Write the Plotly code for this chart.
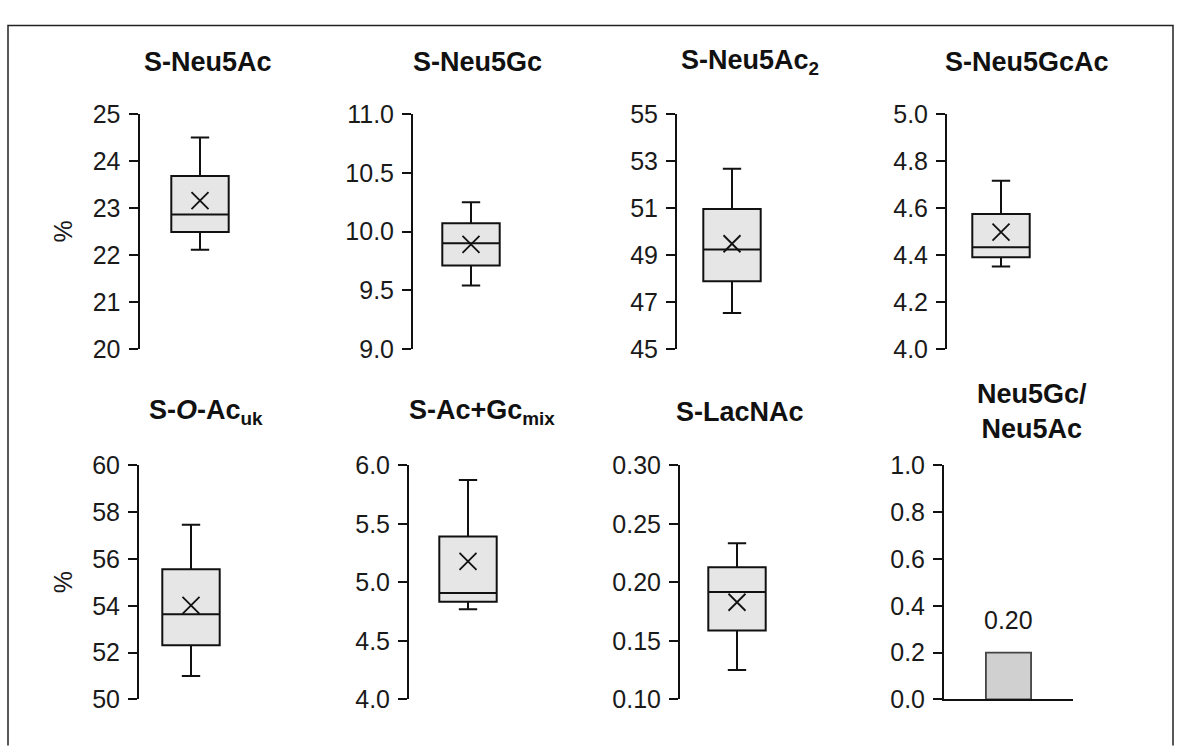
import plotly.graph_objects as go

W, H = 1182, 747

# Panel titles (HTML for sub/italic)
titles = [
    "S-Neu5Ac", "S-Neu5Gc", "S-Neu5Ac<sub>2</sub>", "S-Neu5GcAc",
    "S-<i>O</i>-Ac<sub>uk</sub>", "S-Ac+Gc<sub>mix</sub>", "S-LacNAc",
]
# Box statistics for the seven sialylated species
lower_whisker = [22.11, 9.54, 46.53, 4.351, 51.00, 4.77, 0.125]
q1_values     = [22.49, 9.71, 47.88, 4.390, 52.31, 4.835, 0.1588]
medians       = [22.86, 9.90, 49.23, 4.433, 53.64, 4.909, 0.1918]
q3_values     = [23.68, 10.07, 50.96, 4.575, 55.56, 5.393, 0.2129]
upper_whisker = [24.50, 10.25, 52.67, 4.716, 57.46, 5.876, 0.2335]
means         = [23.16, 9.89, 49.48, 4.497, 54.02, 5.18, 0.183]

# Axis ranges and tick spacing
y_ranges = [(20, 25), (9.0, 11.0), (45, 55), (4.0, 5.0),
            (50, 60), (4.0, 6.0), (0.10, 0.30), (0.0, 1.0)]
y_dticks = [1, 0.5, 2, 0.2, 2, 0.5, 0.05, 0.2]
y_formats = ["d", ".1f", "d", ".1f", "d", ".1f", ".2f", ".1f"]

# Ratio panel
ratio_label = "Neu5Gc/<br>Neu5Ac"
ratio_value = [0.20]

# Layout geometry in pixels
axis_left = [139.5, 413, 677, 947, 139, 409, 680, 944]
mark_center = [200, 471, 732, 1001, 191, 468, 737, 1008.5]
panel_w = 129
unit_px = 64.5          # pixels per x data unit
row_top = [104, 469]
row_bot = [348, 712]
title_x = [208, 478, 750, 1027, 206, 482, 740, 1032]
title_y = [50, 413]

FONT = "Arial, Liberation Sans, sans-serif"
TICK_SIZE = 25
TITLE_SIZE = 27


def px_x(v):
    return v / W


def px_y(v):
    return 1 - v / H


fig = go.Figure()
layout = dict(
    width=W, height=H,
    margin=dict(l=0, r=0, t=0, b=0),
    paper_bgcolor="white", plot_bgcolor="white",
    showlegend=False,
    font=dict(family=FONT, size=TICK_SIZE, color="#1a1a1a"),
)

annotations = []
for i in range(8):
    n = i + 1
    row = 0 if i < 4 else 1
    xa = f"xaxis{n if n > 1 else ''}"
    ya = f"yaxis{n if n > 1 else ''}"
    xref = f"x{n if n > 1 else ''}"
    yref = f"y{n if n > 1 else ''}"
    x0 = axis_left[i]
    lo = -(mark_center[i] - x0) / unit_px
    hi = (x0 + panel_w - mark_center[i]) / unit_px
    layout[xa] = dict(
        domain=[px_x(x0), px_x(x0 + panel_w)],
        range=[lo, hi], anchor=yref,
        visible=(i == 7), showticklabels=False, ticks="",
        showline=(i == 7), linecolor="#111", linewidth=2,
        showgrid=False, zeroline=False, fixedrange=True,
    )
    layout[ya] = dict(
        domain=[px_y(row_bot[row]), px_y(row_top[row])],
        range=list(y_ranges[i]), anchor=xref,
        tick0=y_ranges[i][0], dtick=y_dticks[i], tickformat=y_formats[i],
        showline=True, linecolor="#111", linewidth=2,
        ticks="outside", ticklen=9, tickwidth=2, tickcolor="#111",
        ticklabelstandoff=3,
        showgrid=False, zeroline=False, fixedrange=True,
        tickfont=dict(size=TICK_SIZE, family=FONT, color="#1a1a1a"),
    )
    if i < 7:
        fig.add_trace(go.Box(
            x=[0], q1=[q1_values[i]], median=[medians[i]], q3=[q3_values[i]],
            lowerfence=[lower_whisker[i]], upperfence=[upper_whisker[i]],
            boxpoints=False, width=0.89, whiskerwidth=0.32,
            fillcolor="#e6e6e6", line=dict(color="#111", width=2),
            xaxis=xref, yaxis=yref, hoverinfo="skip",
        ))
        fig.add_trace(go.Scatter(
            x=[0], y=[means[i]], mode="markers",
            marker=dict(symbol="x-thin", size=17, color="#111",
                        line=dict(color="#111", width=1.8)),
            xaxis=xref, yaxis=yref, hoverinfo="skip",
        ))
        annotations.append(dict(
            text=f"<b>{titles[i]}</b>", x=px_x(title_x[i]),
            y=px_y(title_y[row]), xref="paper", yref="paper",
            showarrow=False, xanchor="center", yanchor="middle",
            font=dict(size=TITLE_SIZE, family=FONT, color="#111"),
        ))
    else:
        fig.add_trace(go.Bar(
            x=[0], y=ratio_value, width=0.70,
            marker=dict(color="#d0d0d0", line=dict(color="#444", width=1.8)),
            xaxis=xref, yaxis=yref, hoverinfo="skip",
        ))
        annotations.append(dict(
            text=f"{ratio_value[0]:.2f}", x=0, y=ratio_value[0],
            xref=xref, yref=yref, showarrow=False,
            xanchor="center", yanchor="bottom", yshift=17,
            font=dict(size=TICK_SIZE, family=FONT, color="#1a1a1a"),
        ))
        annotations.append(dict(
            text=f"<b>{ratio_label}</b>", x=px_x(title_x[i]),
            y=px_y(413), xref="paper", yref="paper",
            showarrow=False, xanchor="center", yanchor="middle",
            font=dict(size=TITLE_SIZE, family=FONT, color="#111"),
        ))

# "%" axis labels on the left of each row
for row in range(2):
    annotations.append(dict(
        text="%", x=px_x(63), y=px_y((row_top[row] + row_bot[row]) / 2),
        xref="paper", yref="paper", showarrow=False, textangle=-90,
        xanchor="center", yanchor="middle",
        font=dict(size=TICK_SIZE, family=FONT, color="#1a1a1a"),
    ))

layout["annotations"] = annotations
# outer frame
layout["shapes"] = [dict(
    type="path", xref="paper", yref="paper",
    path=(f"M {px_x(8)} {px_y(760)} L {px_x(8)} {px_y(12)} "
          f"L {px_x(1173)} {px_y(12)} L {px_x(1173)} {px_y(760)}"),
    line=dict(color="#222", width=1.5),
)]

fig.update_layout(**layout)
fig.write_html("out.html")
